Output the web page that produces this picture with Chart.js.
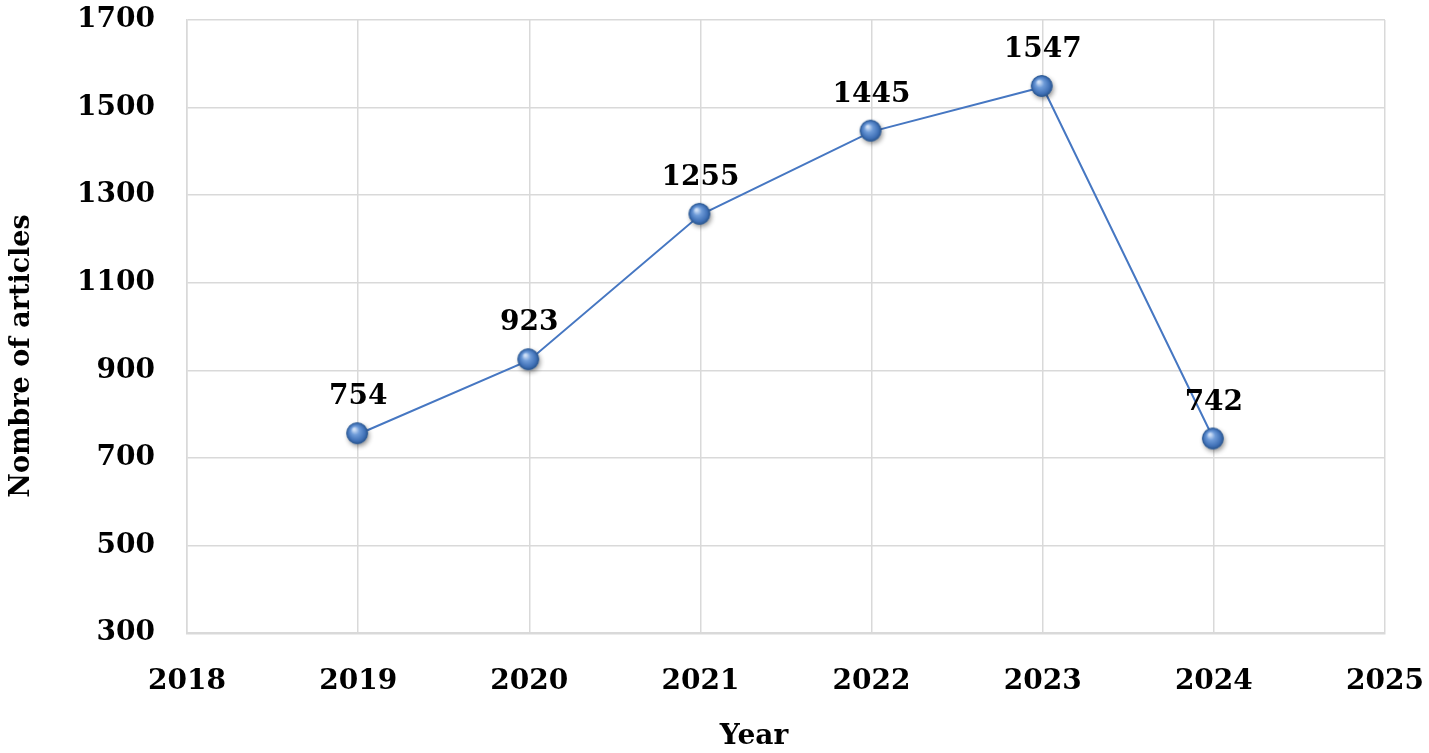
<!DOCTYPE html>
<html>
<head>
<meta charset="utf-8">
<script src="https://cdn.jsdelivr.net/npm/chart.js@4/dist/chart.umd.min.js"></script>
<style>
  html, body { margin: 0; padding: 0; background: #fff; }
  #wrap { width: 1429px; height: 753px; }
</style>
</head>
<body>
<div id="wrap"><canvas id="articlesChart"></canvas></div>
<script>
// data
const years = [2019, 2020, 2021, 2022, 2023, 2024]
const articles = [754, 923, 1255, 1445, 1547, 742]
const yTicks = [300, 500, 700, 900, 1100, 1300, 1500, 1700]
const xTicks = [2018, 2019, 2020, 2021, 2022, 2023, 2024, 2025]
const yTitle = 'Nombre of articles'
const xTitle = 'Year'

const serif = '"DejaVu Serif", serif'

// little shiny blue ball for the markers
const makeBall = () => {
    const c = document.createElement('canvas')
    c.width = 34
    c.height = 34
    const ctx = c.getContext('2d')
    const cx = 16, cy = 16, r = 10.5

    ctx.save()
    ctx.shadowColor = 'rgba(0,0,0,0.45)'
    ctx.shadowBlur = 5
    ctx.shadowOffsetX = 1.5
    ctx.shadowOffsetY = 2.5
    ctx.beginPath()
    ctx.arc(cx, cy, r, 0, Math.PI * 2)
    ctx.fillStyle = '#3e6fb3'
    ctx.fill()
    ctx.restore()

    const g = ctx.createRadialGradient(cx - 3, cy - 4, 1, cx, cy, r)
    g.addColorStop(0, '#cfe0f7')
    g.addColorStop(0.35, '#6e9bd8')
    g.addColorStop(0.8, '#3f70b6')
    g.addColorStop(1, '#2b568f')
    ctx.beginPath()
    ctx.arc(cx, cy, r, 0, Math.PI * 2)
    ctx.fillStyle = g
    ctx.fill()
    ctx.lineWidth = 0.8
    ctx.strokeStyle = '#2c5a96'
    ctx.stroke()
    return c
}

// values above each point, and both axis titles (they sit off-centre in the original)
const pointLabels = {
    id: 'pointLabels',
    afterDatasetsDraw(chart) {
        const ctx = chart.ctx
        const meta = chart.getDatasetMeta(0)
        ctx.save()
        ctx.font = 'bold 28px ' + serif
        ctx.fillStyle = '#000'
        ctx.textAlign = 'center'
        ctx.textBaseline = 'middle'
        meta.data.forEach((pt, i) => {
            ctx.fillText(String(articles[i]), pt.x, pt.y - 37)
        })

        ctx.fillText(xTitle, 754, 737)

        ctx.font = 'bold 27px ' + serif
        ctx.translate(22, 356)
        ctx.rotate(-Math.PI / 2)
        ctx.fillText(yTitle, 0, 0)
        ctx.restore()
    }
}

// no automatic room for overhanging labels, layout padding does it
const noOverhang = s => {
    s.paddingTop = 0
    s.paddingBottom = 0
    s.paddingLeft = 0
    s.paddingRight = 0
}

const articlesChart = () => {
    const el = document.querySelector('#articlesChart')
    const ball = makeBall()

    new Chart(el, {
        type: 'line',
        data: {
            datasets: [{
                data: years.map((y, i) => ({ x: y, y: articles[i] })),
                borderColor: '#4677c2',
                borderWidth: 2,
                pointStyle: ball,
                pointRadius: 11,
                tension: 0,
                fill: false
            }]
        },
        options: {
            responsive: false,
            animation: false,
            devicePixelRatio: 1,
            layout: { padding: { left: 0, right: 44, top: 20, bottom: 0 } },
            plugins: {
                legend: { display: false },
                tooltip: { enabled: false }
            },
            scales: {
                x: {
                    type: 'linear',
                    min: 2018,
                    max: 2025,
                    afterBuildTicks: s => { s.ticks = xTicks.map(v => ({ value: v })) },
                    afterFit: s => { s.height = 120; noOverhang(s) },
                    grid: { color: '#d9d9d9', lineWidth: 1.5, drawTicks: false },
                    border: { color: '#d9d9d9', width: 2.5 },
                    ticks: {
                        padding: 32,
                        color: '#000',
                        font: { family: serif, size: 28, weight: 'bold' },
                        callback: v => String(v)
                    },
                    title: { display: false }
                },
                y: {
                    min: 300,
                    max: 1700,
                    afterBuildTicks: s => { s.ticks = yTicks.map(v => ({ value: v })) },
                    afterFit: s => { s.width = 187; noOverhang(s) },
                    grid: { color: '#d9d9d9', lineWidth: 1.5, drawTicks: false },
                    border: { color: '#d9d9d9', width: 1.5 },
                    ticks: {
                        padding: 32,
                        color: '#000',
                        font: { family: serif, size: 28, weight: 'bold' },
                        callback: v => String(v)
                    },
                    title: { display: false }
                }
            }
        },
        plugins: [pointLabels]
    })
}

const cv = document.querySelector('#articlesChart')
cv.width = 1429
cv.height = 753
cv.style.width = '1429px'
cv.style.height = '753px'
articlesChart()
</script>
</body>
</html>
